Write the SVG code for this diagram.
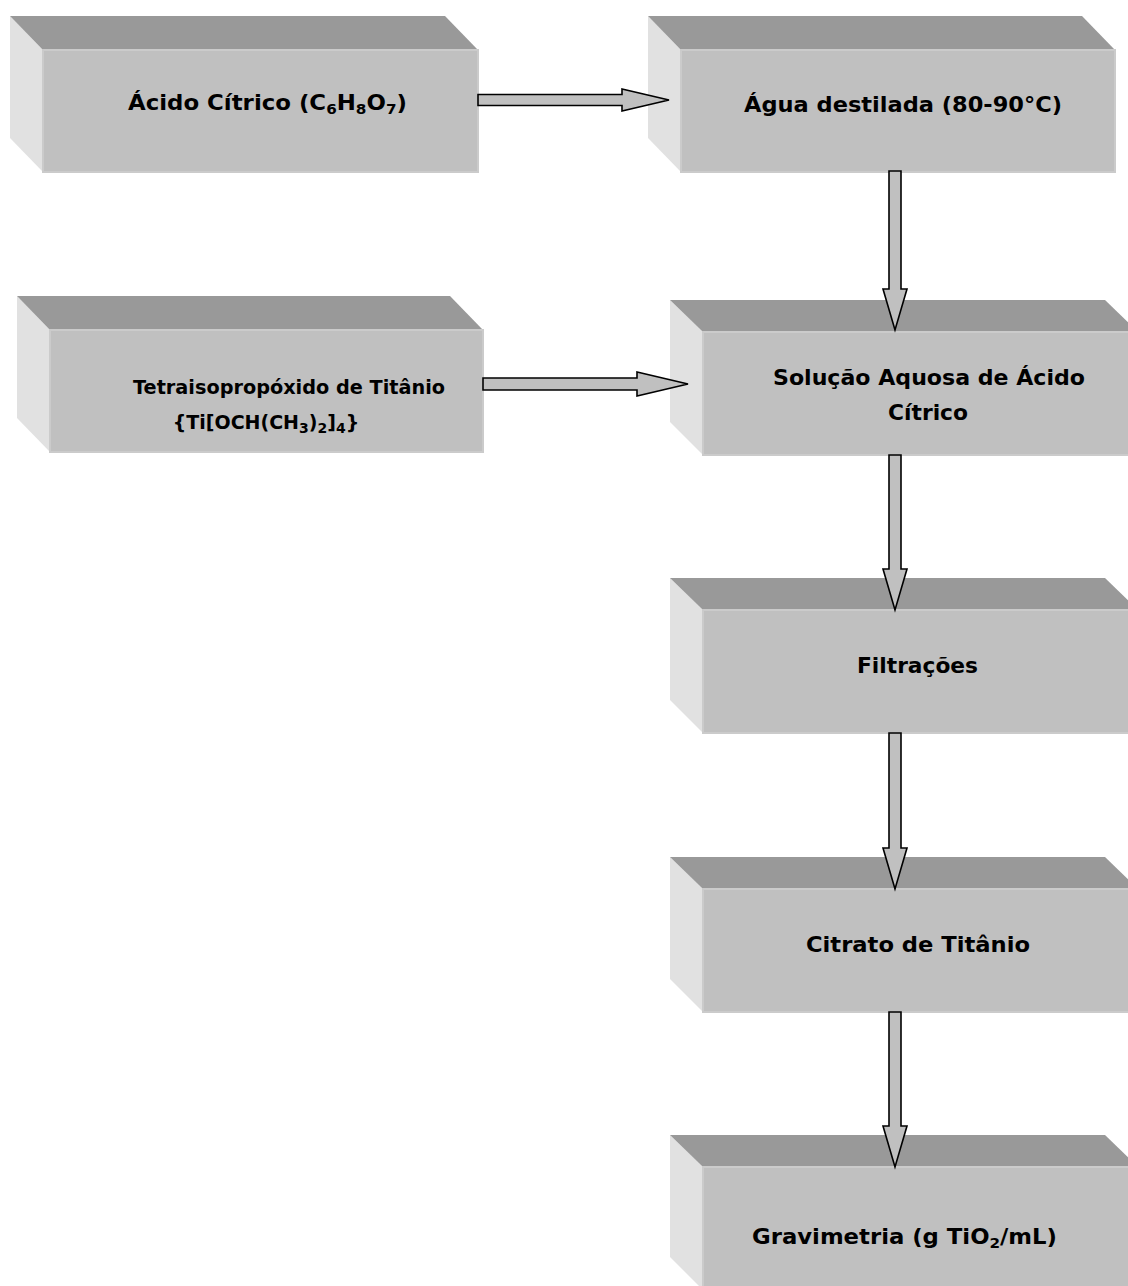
<svg xmlns="http://www.w3.org/2000/svg" width="1128" height="1286" viewBox="0 0 1128 1286">
<style>
.top{fill:#999999}
.side{fill:#e1e1e1}
.front{fill:#c0c0c0;stroke:#cbcbcb;stroke-width:2}
.lbl{font-family:"Comic Sans MS","DejaVu Sans","Liberation Sans",sans-serif;font-weight:bold;font-size:21px;fill:#000}
.sub{font-size:14px}
.arr{fill:#c0c0c0;stroke:#000;stroke-width:1.6;stroke-linejoin:miter}
</style>
<rect width="1128" height="1286" fill="#ffffff"/>
<g id="n1">
<polygon class="side" points="10,16 43,50 43,172 10,138"/>
<polygon class="top" points="10,16 445,16 478,50 43,50"/>
<rect class="front" x="43" y="50" width="435" height="122"/>
<text class="lbl" x="128" y="110" textLength="279" lengthAdjust="spacingAndGlyphs">Ácido Cítrico (C<tspan class="sub" dy="4">6</tspan><tspan dy="-4">H</tspan><tspan class="sub" dy="4">8</tspan><tspan dy="-4">O</tspan><tspan class="sub" dy="4">7</tspan><tspan dy="-4">)</tspan></text>
</g>
<g id="n2">
<polygon class="side" points="648,16 681,50 681,172 648,138"/>
<polygon class="top" points="648,16 1082,16 1115,50 681,50"/>
<rect class="front" x="681" y="50" width="434" height="122"/>
<text class="lbl" x="744" y="112" textLength="318" lengthAdjust="spacingAndGlyphs">Água destilada (80-90°C)</text>
</g>
<g id="n3">
<polygon class="side" points="17,296 50,330 50,452 17,418"/>
<polygon class="top" points="17,296 450,296 483,330 50,330"/>
<rect class="front" x="50" y="330" width="433" height="122"/>
<text class="lbl" x="133" y="394" style="font-size:19px" textLength="312" lengthAdjust="spacingAndGlyphs">Tetraisopropóxido de Titânio</text>
<text class="lbl" x="266" y="429" style="font-size:19px" text-anchor="middle">{Ti[OCH(CH<tspan class="sub" dy="4">3</tspan><tspan dy="-4">)</tspan><tspan class="sub" dy="4">2</tspan><tspan dy="-4">]</tspan><tspan class="sub" dy="4">4</tspan><tspan dy="-4">}</tspan></text>
</g>
<g id="n4">
<polygon class="side" points="670,300 703,332 703,455 670,422"/>
<polygon class="top" points="670,300 1105,300 1138,332 703,332"/>
<rect class="front" x="703" y="332" width="434" height="123"/>
<text class="lbl" x="773" y="385" textLength="312" lengthAdjust="spacingAndGlyphs">Solução Aquosa de Ácido</text>
<text class="lbl" x="888" y="420" textLength="80" lengthAdjust="spacingAndGlyphs">Cítrico</text>
</g>
<g id="n5">
<polygon class="side" points="670,578 703,610 703,733 670,700"/>
<polygon class="top" points="670,578 1105,578 1138,610 703,610"/>
<rect class="front" x="703" y="610" width="434" height="123"/>
<text class="lbl" x="857" y="673" textLength="121" lengthAdjust="spacingAndGlyphs">Filtrações</text>
</g>
<g id="n6">
<polygon class="side" points="670,857 703,889 703,1012 670,979"/>
<polygon class="top" points="670,857 1105,857 1138,889 703,889"/>
<rect class="front" x="703" y="889" width="434" height="123"/>
<text class="lbl" x="806" y="952" textLength="224" lengthAdjust="spacingAndGlyphs">Citrato de Titânio</text>
</g>
<g id="n7">
<polygon class="side" points="670,1135 703,1167 703,1290 670,1257"/>
<polygon class="top" points="670,1135 1105,1135 1138,1167 703,1167"/>
<rect class="front" x="703" y="1167" width="434" height="125"/>
<text class="lbl" x="752" y="1244" textLength="305" lengthAdjust="spacingAndGlyphs">Gravimetria (g TiO<tspan class="sub" dy="4">2</tspan><tspan dy="-4">/mL)</tspan></text>
</g>
<g id="connectors">
<polygon class="arr" points="478,94.5 622,94.5 622,89 669,100 622,111 622,105.5 478,105.5"/>
<polygon class="arr" points="483,378 637,378 637,372 688,384 637,396 637,390 483,390"/>
<polygon class="arr" points="889,171 901,171 901,289 907,289 895,330 883,289 889,289"/>
<polygon class="arr" points="889,455 901,455 901,569 907,569 895,610 883,569 889,569"/>
<polygon class="arr" points="889,733 901,733 901,848 907,848 895,889 883,848 889,848"/>
<polygon class="arr" points="889,1012 901,1012 901,1126 907,1126 895,1167 883,1126 889,1126"/>
</g>
</svg>
